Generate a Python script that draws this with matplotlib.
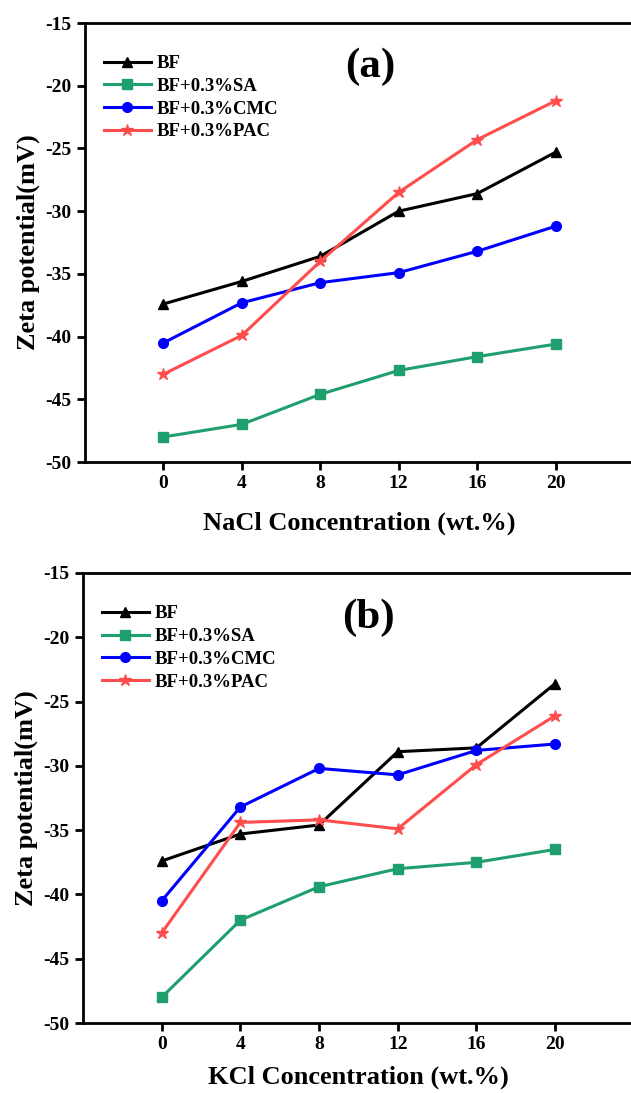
import matplotlib.pyplot as plt

plt.rcParams["font.family"] = ["Liberation Serif", "DejaVu Serif"]
plt.rcParams["font.weight"] = "bold"
plt.rcParams["axes.unicode_minus"] = False

conc = [0, 4, 8, 12, 16, 20]
labels = ["BF", "BF+0.3%SA", "BF+0.3%CMC", "BF+0.3%PAC"]
colors = ["black", "#1f9e6e", "#0000ff", "#ff4d4d"]
markers = ["^", "s", "o", "*"]

# (a) NaCl
nacl_bf = [-37.4, -35.6, -33.6, -30.0, -28.6, -25.3]
nacl_sa = [-48.0, -47.0, -44.6, -42.7, -41.6, -40.6]
nacl_cmc = [-40.5, -37.3, -35.7, -34.9, -33.2, -31.2]
nacl_pac = [-43.0, -39.9, -34.0, -28.5, -24.3, -21.2]

# (b) KCl
kcl_bf = [-37.4, -35.3, -34.6, -28.9, -28.6, -23.6]
kcl_sa = [-48.0, -42.0, -39.4, -38.0, -37.5, -36.5]
kcl_cmc = [-40.5, -33.2, -30.2, -30.7, -28.8, -28.3]
kcl_pac = [-43.0, -34.4, -34.2, -34.9, -29.9, -26.1]

fig = plt.figure(figsize=(6.31, 10.93), dpi=100)
ax1 = fig.add_axes([0.1347, 0.5773, 0.870, 0.4016])
ax2 = fig.add_axes([0.1315, 0.0640, 0.873, 0.4118])


def draw_panel(ax, series, xlabel, tag, xpad):
    for vals, lab, c, m in zip(series, labels, colors, markers):
        ms = 9 if m == "*" else 7
        ax.plot(conc, vals, color=c, marker=m, markersize=ms, linewidth=2.2,
                label=lab)
    ax.set_xlim(-4, 24)
    ax.set_ylim(-50, -15)
    ax.set_xticks(conc)
    ax.set_yticks(range(-50, -14, 5))
    ax.tick_params(labelsize=14, width=2, length=6, direction="out")
    for s in ax.spines.values():
        s.set_linewidth(2)
    ax.spines["right"].set_visible(False)
    ax.set_xlabel(xlabel, fontsize=19, fontweight="bold", labelpad=xpad)
    ax.set_ylabel("Zeta potential(mV)", fontsize=19, fontweight="bold",
                  labelpad=4)
    ax.text(0.519, 0.90, tag, transform=ax.transAxes, fontsize=31,
            fontweight="bold", ha="center", va="center")
    ax.legend(loc="upper left", frameon=False, handlelength=2.5,
              handletextpad=0.3, labelspacing=0.3,
              bbox_to_anchor=(0.0, 0.97), borderaxespad=0.6,
              prop={"size": 13.5, "weight": "bold"})


draw_panel(ax1, [nacl_bf, nacl_sa, nacl_cmc, nacl_pac],
           "NaCl Concentration (wt.%)", "(a)", 14)
draw_panel(ax2, [kcl_bf, kcl_sa, kcl_cmc, kcl_pac],
           "KCl Concentration (wt.%)", "(b)", 9)

fig.savefig("out.png", dpi=100)
